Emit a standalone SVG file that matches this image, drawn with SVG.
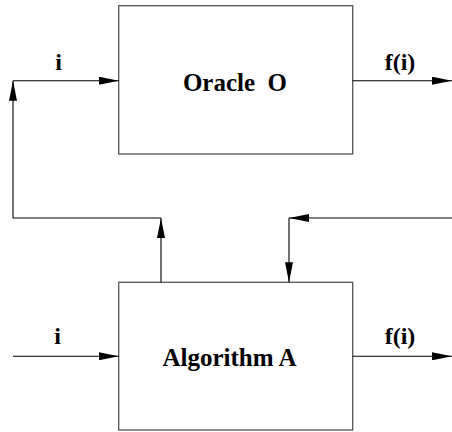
<svg xmlns="http://www.w3.org/2000/svg" width="452" height="432" viewBox="0 0 452 432">
<defs>
<marker id="ah" markerUnits="userSpaceOnUse" markerWidth="20" markerHeight="8" refX="20" refY="4" orient="auto">
<path d="M0,0 L20,4 L0,8 z" fill="#000"/>
</marker>
<style>
.box{fill:#fff;stroke:#555;stroke-width:1.3}
.ln{fill:none;stroke:#000;stroke-width:1.1}
.arr{marker-end:url(#ah)}
text{font-weight:bold;fill:#000}
.big{font-size:25px;text-anchor:middle}
.lab{font-size:24px;text-anchor:middle}
</style>
</defs>
<rect width="452" height="432" fill="#fff"/>
<g id="oracle">
<rect class="box" x="118.7" y="5.7" width="234" height="148.3"/>
<text class="big" font-family="Liberation Serif, Times New Roman, serif" x="235" y="90.7" xml:space="preserve">Oracle  O</text>
</g>
<g id="algorithm">
<rect class="box" x="118.7" y="282.3" width="234" height="147.7"/>
<text class="big" font-family="Liberation Serif, Times New Roman, serif" x="229.5" y="365.7">Algorithm A</text>
</g>
<g id="connectors">
<path class="ln arr" d="M13,80.7 H118.7"/>
<path class="ln arr" d="M352.7,80.7 H452"/>
<path class="ln arr" d="M13,356.3 H118.7"/>
<path class="ln arr" d="M352.7,356.3 H452"/>
<path class="ln arr" d="M161,282.3 V218"/>
<path class="ln arr" d="M161,218 H13 V80.7"/>
<path class="ln arr" d="M452,218 H289"/>
<path class="ln arr" d="M289,218 V282.3"/>
</g>
<g id="labels">
<text class="lab" font-family="Liberation Serif, Times New Roman, serif" x="58.5" y="69.5">i</text>
<text class="lab" font-family="Liberation Serif, Times New Roman, serif" x="400" y="69.5">f(i)</text>
<text class="lab" font-family="Liberation Serif, Times New Roman, serif" x="57.5" y="344">i</text>
<text class="lab" font-family="Liberation Serif, Times New Roman, serif" x="400" y="344">f(i)</text>
</g>
</svg>
